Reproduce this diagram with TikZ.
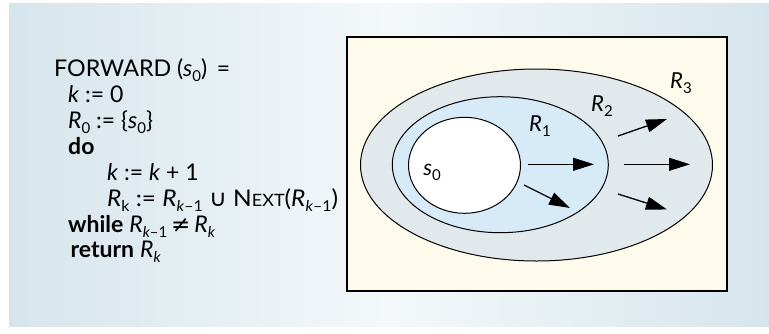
\documentclass[tikz,border=0pt]{standalone}
\usepackage{fontspec}
\setmainfont{Lato}
\newfontfamily\symfont{DejaVu Sans}
\usetikzlibrary{shapes.geometric,arrows.meta}
\definecolor{bgedge}{HTML}{D6E5EC}
\definecolor{bgmid}{HTML}{F4F8FA}
\definecolor{boxfill}{HTML}{FFFBEC}
\definecolor{rthree}{HTML}{E2E9ED}
\definecolor{rtwo}{HTML}{D6EAF7}
\newcommand\mysub[1]{\raisebox{-0.22em}{\fontsize{15}{15}\selectfont #1}}
\newcommand\mysym[1]{{\symfont #1}}
\begin{document}
\begin{tikzpicture}[x=1pt,y=-1pt,
  codeline/.style={anchor=base west,inner sep=0pt,font=\fontsize{23}{26}\selectfont},
  region/.style={draw=black,line width=1pt,ellipse,inner sep=0pt},
  lbl/.style={inner sep=0pt,font=\fontsize{22}{24}\selectfont},
  arr/.style={line width=1.3pt,-{Triangle[length=21pt,width=13pt]}}]
\useasboundingbox (0,0) rectangle (769,333);
\fill[white] (0,0) rectangle (769,333);
\shade[left color=bgedge,right color=bgedge,middle color=bgmid] (9,3) rectangle (769,326);
% code
\node[codeline] (l0) at (54,76) {\resizebox{117pt}{\height}{FORWARD} (\textit{s}\mysub{0})\, =};
\node[codeline] (l1) at (68,102) {\textit{k} := 0};
\node[codeline] (l2) at (68,128) {\textit{R}\mysub{0} := \{\textit{s}\mysub{0}\}};
\node[codeline] (l3) at (68,154) {\textbf{do}};
\node[codeline] (l4) at (107,180) {\textit{k} := \textit{k} + 1};
\node[codeline] (l5) at (107,206) {\resizebox{231pt}{\height}{\textit{R}\mysub{k} := \textit{R}\mysub{\textit{k}–1} \mysym{∪} N{\fontsize{17}{17}\selectfont EXT}(\textit{R}\mysub{\textit{k}–1})}};
\node[codeline] (l6) at (68,232) {\textbf{while} \textit{R}\mysub{\textit{k}–1}\,\mysym{≠}\,\textit{R}\mysub{\textit{k}}};
\node[codeline] (l7) at (70.5,257) {\textbf{return} \textit{R}\mysub{\textit{k}}};
% box
\node[draw=black,line width=1.2pt,fill=boxfill,minimum width=380pt,minimum height=254pt,inner sep=0pt] (frame) at (537,164) {};
% regions
\node[region,fill=rthree,minimum width=352pt,minimum height=192pt] (r3) at (536.5,165) {};
\node[region,fill=rtwo,minimum width=216pt,minimum height=136pt] (r1) at (500.3,164.7) {};
\node[region,fill=white,minimum width=112pt,minimum height=96pt] (s0) at (464.5,165.3) {};
% labels
\node[lbl] (t3) at (681,83) {\textit{R}\mysub{3}};
\node[lbl] (t2) at (602,106) {\textit{R}\mysub{2}};
\node[lbl] (t1) at (540,126) {\textit{R}\mysub{1}};
\node[lbl] (t0) at (432,172) {\textit{s}\mysub{0}};
% arrows
\coordinate (a1s) at (528,164.3); \coordinate (a1e) at (594,164.3);
\coordinate (a2s) at (524,185); \coordinate (a2e) at (570,208);
\coordinate (a3s) at (618,136); \coordinate (a3e) at (667,119);
\coordinate (a4s) at (624,164.3); \coordinate (a4e) at (690,164.3);
\coordinate (a5s) at (618,194); \coordinate (a5e) at (667,209.5);
\draw[arr] (a1s) -- (a1e);
\draw[arr] (a2s) -- (a2e);
\draw[arr] (a3s) -- (a3e);
\draw[arr] (a4s) -- (a4e);
\draw[arr] (a5s) -- (a5e);
\end{tikzpicture}
\end{document}
